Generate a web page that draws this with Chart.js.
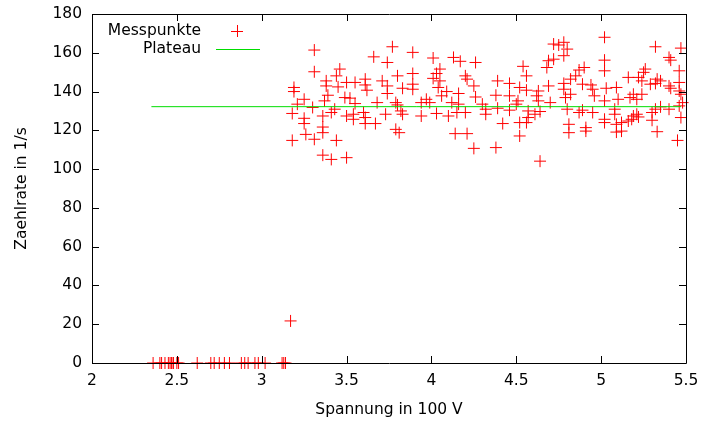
<!DOCTYPE html>
<html>
<head>
<meta charset="utf-8">
<script src="https://cdn.jsdelivr.net/npm/chart.js@4/dist/chart.umd.min.js"></script>
<style>
  body { margin: 0; background: #fff; }
</style>
</head>
<body>
<canvas id="chart-plateau" width="701" height="421"></canvas>
<script>
// Messpunkte mit Zaehlrate 0 (unterhalb der Einsatzspannung)
const spannungNull = [2.36, 2.40, 2.41, 2.43, 2.45, 2.46, 2.47, 2.47, 2.48, 2.50, 2.51,
	2.62, 2.70, 2.72, 2.75, 2.78, 2.81, 2.88, 2.90, 2.92, 2.96, 2.98, 3.02, 3.12, 3.13, 3.14];

// Messpunkte im Plateau-Bereich: Spannung (100 V) und Zaehlrate (1/s)
const spannung = [
	3.17,
	3.31, 3.31, 3.46, 3.44, 3.38, 3.19, 3.19, 3.38, 3.45, 3.50, 3.39, 3.49, 3.25, 3.21, 3.37, 3.30,
	3.43, 3.41, 3.18, 3.36, 3.50, 3.25, 3.25, 3.36, 3.36, 3.26, 3.18, 3.31, 3.44, 3.36, 3.41, 3.50,
	3.77, 3.89, 3.66, 3.74, 3.80, 3.89, 3.61, 3.55, 3.71, 3.61, 3.62, 3.74, 3.83, 3.89, 3.89, 3.74,
	3.52, 3.55, 3.68, 3.79, 3.80, 3.54, 3.60, 3.73, 3.82, 3.83, 3.54, 3.61, 3.61, 3.67, 3.79, 3.81,
	4.01, 4.13, 4.17, 4.26, 4.05, 4.03, 4.01, 4.20, 4.21, 4.05, 4.04, 4.25, 4.09, 4.16, 4.06, 4.26,
	3.97, 3.94, 3.99, 4.12, 4.16, 4.30, 4.15, 4.03, 4.10, 4.20, 3.94, 4.14, 4.21, 4.25,
	4.72, 4.69, 4.68, 4.54, 4.56, 4.39, 4.46, 4.69, 4.52, 4.56, 4.63, 4.38, 4.46, 4.62, 4.63, 4.51,
	4.50, 4.70, 4.32, 4.39, 4.46, 4.57, 4.64, 4.32, 4.61, 4.57, 4.52, 4.56, 4.42, 4.52, 4.38, 4.64,
	4.78, 4.75, 5.02, 4.80, 4.78, 4.72, 5.02, 5.02, 4.90, 4.87, 4.85, 4.82, 4.78, 4.89, 4.94, 4.95,
	5.03, 5.09, 4.78, 4.82, 4.96, 4.79, 5.02, 5.10, 4.80, 4.89, 4.95, 4.87, 5.08, 5.08, 5.02, 5.02,
	4.81, 4.91, 5.09, 4.81, 4.91, 5.09,
	5.32, 5.47, 5.40, 5.41, 5.26, 5.25, 5.46, 5.16, 5.22, 5.33, 5.35, 5.24, 5.29, 5.32, 5.40, 5.41,
	5.46, 5.46, 5.47, 5.19, 5.24, 5.17, 5.21, 5.48, 5.46, 5.35, 5.32, 5.40, 5.30, 5.21, 5.19, 5.22,
	5.16, 5.18, 5.30, 5.12, 5.47, 5.12, 5.33, 5.45
];
const zaehlrate = [
	21.7,
	161.4, 150.2, 151.6, 148.1, 145.5, 142.1, 140.0, 142.9, 142.4, 144.7, 138.1, 136.9, 136.0, 133.5, 135.2, 131.8,
	130.9, 129.2, 128.7, 127.4, 127.4, 126.2, 123.5, 121.7, 118.8, 117.9, 114.8, 115.4, 114.8, 107.2, 105.0, 105.9,
	163.1, 160.2, 157.9, 155.0, 148.1, 149.3, 146.4, 144.7, 145.5, 143.4, 140.7, 142.9, 141.7, 143.8, 141.2, 139.0,
	136.6, 133.8, 134.3, 134.3, 133.1, 128.3, 129.2, 128.3, 130.0, 128.3, 125.7, 126.6, 123.5, 123.5, 120.5, 118.8,
	157.3, 157.6, 155.6, 155.0, 151.6, 149.3, 146.8, 148.1, 146.4, 145.5, 142.1, 142.9, 140.0, 139.0, 137.8, 137.2,
	136.0, 134.3, 134.3, 134.3, 133.5, 133.5, 129.2, 128.7, 127.4, 129.2, 127.4, 118.3, 118.3, 110.7,
	164.5, 155.9, 152.4, 153.0, 148.1, 145.5, 144.2, 142.9, 142.1, 140.7, 140.3, 138.1, 137.8, 137.8, 135.2, 135.2,
	133.5, 134.3, 130.9, 131.4, 130.4, 130.0, 129.7, 128.3, 128.3, 126.6, 124.0, 124.0, 123.5, 117.1, 111.1, 104.1,
	165.4, 164.0, 168.0, 161.9, 158.5, 156.7, 156.2, 150.7, 152.4, 151.1, 148.1, 146.4, 144.2, 143.8, 143.4, 141.2,
	141.7, 142.1, 141.2, 138.6, 137.8, 136.9, 135.2, 136.0, 130.9, 130.4, 129.2, 129.2, 130.9, 128.3, 125.7, 124.0,
	123.1, 121.4, 123.1, 118.8, 119.6, 119.1,
	163.1, 162.4, 157.6, 156.2, 151.6, 149.9, 150.7, 147.3, 147.3, 146.4, 145.5, 145.5, 143.8, 144.2, 142.9, 141.7,
	144.7, 140.3, 138.6, 138.6, 138.6, 136.9, 136.0, 134.3, 132.6, 132.1, 130.9, 130.9, 129.2, 128.3, 127.4, 126.9,
	124.8, 125.7, 125.2, 124.0, 126.6, 119.6, 119.3, 114.8
];

// Plateau (konstante Zaehlrate)
const plateauX = [2.35, 5.47];
const plateauY = [132.2, 132.2];

const legendLabels = ["Messpunkte", "Plateau"];

const rot = "#ff0000";
const gruen = "#00dd00";
const schrift = "'DejaVu Sans'";
const schriftGroesse = 15.5;

let punkte = spannungNull.map(x => ({ x: x, y: 0 }));
for (let i = 0; i < spannung.length; i++) {
	punkte.push({ x: spannung[i], y: zaehlrate[i] });
}
let plateau = plateauX.map((x, i) => ({ x: x, y: plateauY[i] }));

// Rahmen mit Ticks nach innen (wie gnuplot)
const rahmenPlugin = {
	id: "rahmen",
	afterDraw(chart) {
		const c = chart.ctx;
		const a = chart.chartArea;
		const len = 7;
		c.save();
		c.strokeStyle = "#000";
		c.lineWidth = 1;
		c.beginPath();
		c.rect(a.left + 0.5, a.top + 0.5, a.right - a.left, a.bottom - a.top);
		chart.scales.x.ticks.forEach(t => {
			const px = Math.round(chart.scales.x.getPixelForValue(t.value)) + 0.5;
			c.moveTo(px, a.bottom); c.lineTo(px, a.bottom - len);
			c.moveTo(px, a.top); c.lineTo(px, a.top + len);
		});
		chart.scales.y.ticks.forEach(t => {
			const py = Math.round(chart.scales.y.getPixelForValue(t.value)) + 0.5;
			c.moveTo(a.left, py); c.lineTo(a.left + len, py);
			c.moveTo(a.right, py); c.lineTo(a.right - len, py);
		});
		c.stroke();
		c.restore();
	}
};

// Legende oben links, Text rechtsbuendig, Symbol rechts daneben
const legendePlugin = {
	id: "legende",
	afterDraw(chart) {
		const c = chart.ctx;
		c.save();
		c.font = schriftGroesse + "px " + schrift;
		c.fillStyle = "#000";
		c.textAlign = "right";
		c.textBaseline = "middle";
		c.fillText(legendLabels[0], 201, 31);
		c.fillText(legendLabels[1], 201, 49);
		c.lineWidth = 1;
		c.strokeStyle = rot;
		c.beginPath();
		c.moveTo(231, 31.5); c.lineTo(243, 31.5);
		c.moveTo(237.5, 25); c.lineTo(237.5, 37);
		c.stroke();
		c.strokeStyle = gruen;
		c.beginPath();
		c.moveTo(216, 49.5); c.lineTo(260, 49.5);
		c.stroke();
		c.restore();
	}
};

Chart.defaults.font.family = schrift;
Chart.defaults.font.size = schriftGroesse;
Chart.defaults.color = "#000";

const ctx = document.getElementById("chart-plateau").getContext("2d");
let myChart = new Chart(ctx, {
	type: "scatter",
	data: {
		datasets: [
			{
				label: legendLabels[0],
				data: punkte,
				pointStyle: "cross",
				pointRadius: 6,
				pointBorderWidth: 1,
				borderColor: rot,
				backgroundColor: rot,
				clip: false,
				order: 1,
			},
			{
				label: legendLabels[1],
				data: plateau,
				showLine: true,
				pointRadius: 0,
				borderColor: gruen,
				borderWidth: 1,
				order: 0,
			}
		],
	},
	options: {
		responsive: false,
		animation: false,
		layout: { padding: { top: 14, right: 15, left: 0, bottom: 0 } },
		plugins: {
			legend: { display: false },
			tooltip: { enabled: false },
		},
		scales: {
			x: {
				type: "linear",
				min: 2,
				max: 5.5,
				ticks: { stepSize: 0.5, padding: 9, callback: v => String(v) },
				grid: { display: false, drawTicks: false },
				border: { display: false },
				title: { display: true, text: "Spannung in 100 V", padding: { top: 0, bottom: 2 } },
				afterFit(scale) {
					scale.height = 58;
					scale.paddingLeft = 0;
					scale.paddingRight = 0;
				},
			},
			y: {
				min: 0,
				max: 180,
				ticks: { stepSize: 20, padding: 10 },
				grid: { display: false, drawTicks: false },
				border: { display: false },
				title: { display: true, text: "Zaehlrate in 1/s", padding: { top: 13, bottom: 0 } },
				afterFit(scale) {
					scale.width = 92;
					scale.paddingTop = 0;
					scale.paddingBottom = 0;
				},
			},
		},
	},
	plugins: [rahmenPlugin, legendePlugin],
});
</script>
</body>
</html>
